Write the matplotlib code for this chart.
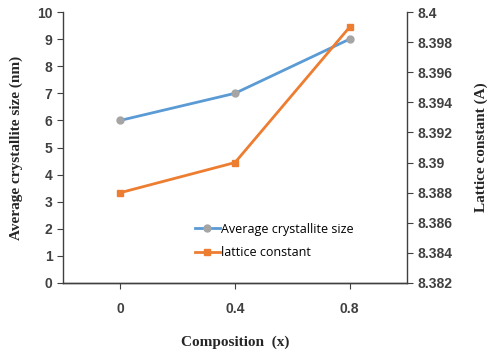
import matplotlib
matplotlib.use("Agg")
import matplotlib.pyplot as plt

compositions = ["0", "0.4", "0.8"]
crystallite_size = [6, 7, 9]
lattice_const = [8.388, 8.390, 8.399]

blue = "#5b9bd5"
orange = "#ed7d31"

fig = plt.figure(figsize=(4.87, 3.51), dpi=100)
ax = fig.add_axes([63/487, 1 - 283/351, (407-63)/487, (283-12)/351])
ax2 = ax.twinx()

x = list(range(len(compositions)))
l1, = ax.plot(x, crystallite_size, color=blue, lw=2, marker="o", ms=5,
              mfc="#a5a5a5", mec="#a5a5a5", label="Average crystallite size")
l2, = ax2.plot(x, lattice_const, color=orange, lw=2, marker="s", ms=5,
               label="lattice constant")

ax.set_xlim(-0.5, 2.5)
ax.set_ylim(0, 10)
ax.set_yticks(range(0, 11))
ax2.set_ylim(8.382, 8.4)
ax2.set_yticks([8.382, 8.384, 8.386, 8.388, 8.39, 8.392, 8.394, 8.396, 8.398, 8.4])
ax2.set_yticklabels(["8.382", "8.384", "8.386", "8.388", "8.39", "8.392",
                     "8.394", "8.396", "8.398", "8.4"])
ax.set_xticks(x)
ax.set_xticklabels(compositions)

for a in (ax, ax2):
    a.spines["top"].set_visible(False)
    for s in a.spines.values():
        s.set_color("#404040")
        s.set_linewidth(1)
    a.tick_params(colors="#404040", labelcolor="#404040", labelsize=10, length=4, direction="out")
    for t in a.get_yticklabels() + a.get_xticklabels():
        t.set_fontweight("bold")
        t.set_family("Liberation Sans")
ax2.spines["left"].set_visible(False)
ax.spines["right"].set_visible(False)
ax.tick_params(axis="x", pad=10)

lab_font = dict(family="Liberation Serif", fontweight="bold", fontsize=11, color="#262626")
ax.set_ylabel("Average crystallite size (nm)", labelpad=10, **lab_font)
ax2.set_ylabel("Lattice constant (A)", labelpad=16, rotation=90, **lab_font)
ax.set_xlabel("Composition  (x)", labelpad=14, **lab_font)

leg = ax.legend(handles=[l1, l2], loc="upper left", bbox_to_anchor=(0.365, 0.245),
                frameon=False, prop=dict(family="Open Sans", size=9),
                handlelength=2, handletextpad=0.1, labelspacing=0.85, borderpad=0)

fig.savefig("out.png", dpi=100)
